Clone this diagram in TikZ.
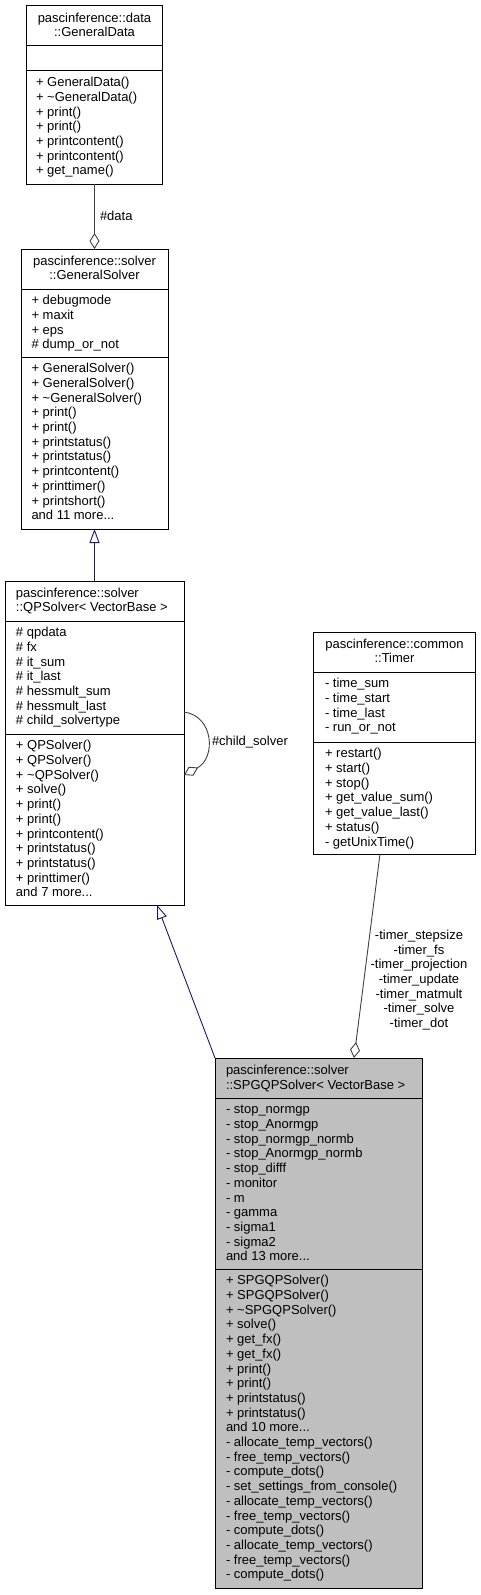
\documentclass[tikz,border=0pt]{standalone}
\usepackage{fontspec}
\setmainfont{Liberation Sans}
\usetikzlibrary{arrows.meta}
\definecolor{boxgray}{RGB}{191,191,191}
\definecolor{edgegray}{RGB}{64,64,64}
\definecolor{inhblue}{RGB}{25,25,112}
\newcommand\umlfont{\fontsize{13}{14.7}\selectfont}
\tikzset{
  classbox/.style={draw=black, line width=1pt, inner sep=0pt, outer sep=0pt},
  spbox/.style={classbox, fill=boxgray},
  txt/.style={inner sep=0pt, outer sep=0pt, align=left, anchor=north west, font=\umlfont},
  ttl/.style={inner sep=0pt, outer sep=0pt, align=center, anchor=north, font=\umlfont},
  ttlleft/.style={txt},
  lbl/.style={inner sep=0pt, outer sep=0pt, font=\umlfont},
  sepline/.style={line width=1pt},
  agg/.style={draw=edgegray, line width=0.9pt, -{Diamond[fill=white,length=16pt,width=10pt]}},
  inh/.style={draw=inhblue, line width=0.9pt, -{Triangle[fill=white,length=14pt,width=10pt]}},
}
\begin{document}
\begin{tikzpicture}[x=1pt,y=-1pt]
\useasboundingbox (0,0) rectangle (481,1595);
% GeneralData
\node[classbox, minimum width=136pt, minimum height=178pt] (gd) at (94.5,95) {};
\draw[sepline] (gd.west |- 0,46) -- (gd.east |- 0,46);
\draw[sepline] (gd.west |- 0,71) -- (gd.east |- 0,71);
\node[ttl] (gdt) at (94.5,12) {\strut pascinference::data\\::GeneralData};
\node[txt] (gdm) at (36,76.5) {\strut + GeneralData()\\+ \textasciitilde GeneralData()\\+ print()\\+ print()\\+ printcontent()\\+ printcontent()\\+ get\_name()};
% GeneralSolver
\node[classbox, minimum width=147pt, minimum height=280pt] (gs) at (94.5,389) {};
\draw[sepline] (gs.west |- 0,289) -- (gs.east |- 0,289);
\draw[sepline] (gs.west |- 0,357) -- (gs.east |- 0,357);
\node[ttl] (gst) at (94.5,255) {\strut pascinference::solver\\::GeneralSolver};
\node[txt] (gsa) at (31.5,294.5) {\strut + debugmode\\+ maxit\\+ eps\\\# dump\_or\_not};
\node[txt] (gsm) at (31.5,362.5) {\strut + GeneralSolver()\\+ GeneralSolver()\\+ \textasciitilde GeneralSolver()\\+ print()\\+ print()\\+ printstatus()\\+ printstatus()\\+ printcontent()\\+ printtimer()\\+ printshort()\\and 11 more...};
% QPSolver
\node[classbox, minimum width=179pt, minimum height=324pt] (qp) at (94.5,743) {};
\draw[sepline] (qp.west |- 0,621) -- (qp.east |- 0,621);
\draw[sepline] (qp.west |- 0,734) -- (qp.east |- 0,734);
\node[ttlleft] (qpt) at (16,587) {\strut pascinference::solver\\::QPSolver< VectorBase >};
\node[txt] (qpa) at (16,626.5) {\strut \# qpdata\\\# fx\\\# it\_sum\\\# it\_last\\\# hessmult\_sum\\\# hessmult\_last\\\# child\_solvertype};
\node[txt] (qpm) at (16,739.5) {\strut + QPSolver()\\+ QPSolver()\\+ \textasciitilde QPSolver()\\+ solve()\\+ print()\\+ print()\\+ printcontent()\\+ printstatus()\\+ printstatus()\\+ printtimer()\\and 7 more...};
% Timer
\node[classbox, minimum width=162pt, minimum height=222pt] (tm) at (394.5,743) {};
\draw[sepline] (tm.west |- 0,672) -- (tm.east |- 0,672);
\draw[sepline] (tm.west |- 0,742) -- (tm.east |- 0,742);
\node[ttl] (tmt) at (394.5,638) {\strut pascinference::common\\::Timer};
\node[txt] (tma) at (325,677.5) {\strut - time\_sum\\- time\_start\\- time\_last\\- run\_or\_not};
\node[txt] (tmm) at (325,747.5) {\strut + restart()\\+ start()\\+ stop()\\+ get\_value\_sum()\\+ get\_value\_last()\\+ status()\\- getUnixTime()};
% SPGQPSolver
\node[spbox, minimum width=207pt, minimum height=530pt] (sp) at (318.5,1323) {};
\draw[sepline] (sp.west |- 0,1098) -- (sp.east |- 0,1098);
\draw[sepline] (sp.west |- 0,1269) -- (sp.east |- 0,1269);
\node[ttlleft] (spt) at (226,1064) {\strut pascinference::solver\\::SPGQPSolver< VectorBase >};
\node[txt] (spa) at (226,1103.5) {\strut - stop\_normgp\\- stop\_Anormgp\\- stop\_normgp\_normb\\- stop\_Anormgp\_normb\\- stop\_difff\\- monitor\\- m\\- gamma\\- sigma1\\- sigma2\\and 13 more...};
\node[txt] (spm) at (226,1274.5) {\strut + SPGQPSolver()\\+ SPGQPSolver()\\+ \textasciitilde SPGQPSolver()\\+ solve()\\+ get\_fx()\\+ get\_fx()\\+ print()\\+ print()\\+ printstatus()\\+ printstatus()\\and 10 more...\\- allocate\_temp\_vectors()\\- free\_temp\_vectors()\\- compute\_dots()\\- set\_settings\_from\_console()\\- allocate\_temp\_vectors()\\- free\_temp\_vectors()\\- compute\_dots()\\- allocate\_temp\_vectors()\\- free\_temp\_vectors()\\- compute\_dots()};
% connectors
\draw[agg] (gd.south) -- (gs.north);
\node[lbl, anchor=west] (ldata) at (100,216) {\#data};
\draw[inh] (qp.north) -- (gs.south);
\draw[agg] ([yshift=31pt]qp.east) .. controls (214,716) and (216,758) .. ([yshift=-32pt]qp.east);
\node[lbl, anchor=west] (lchild) at (212,742) {\#child\_solver};
\draw[inh] (sp.north west) -- ([xshift=62.5pt]qp.south);
\draw[agg] ([xshift=-14.5pt]tm.south) -- ([xshift=35.5pt]sp.north);
\node[lbl, align=center] (ltimer) at (419,980) {-timer\_stepsize\\-timer\_fs\\-timer\_projection\\-timer\_update\\-timer\_matmult\\-timer\_solve\\-timer\_dot};
\end{tikzpicture}
\end{document}
